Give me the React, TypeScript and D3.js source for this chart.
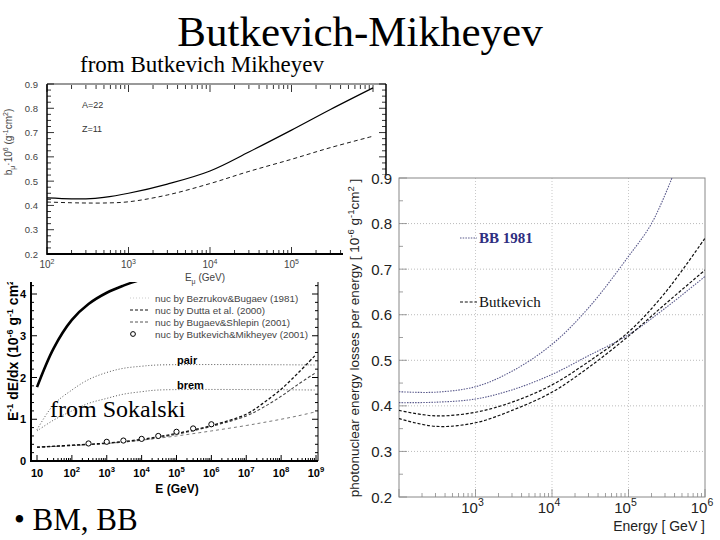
import React from 'react';
import * as d3 from 'd3';

// ---- top-left: Butkevich & Mikheyev, b_nu for A=22, Z=11
const bmEnergy = [100, 200, 300, 500, 1e3, 3e3, 1e4, 3e4, 1e5, 3e5, 1e6];
const bmSolid = [0.431, 0.427, 0.427, 0.433, 0.45, 0.488, 0.542, 0.62, 0.71, 0.795, 0.884];
const bmDashed = [0.414, 0.411, 0.41, 0.41, 0.415, 0.443, 0.49, 0.54, 0.59, 0.638, 0.685];
const bmYTicks = [0.2, 0.3, 0.4, 0.5, 0.6, 0.7, 0.8, 0.9];
const bmXTicks = [2, 3, 4, 5];

// ---- bottom-left: Sokalski, E^-1 dE/dx
const sokTotalE = [10, 30, 100, 300, 1e3, 3e3, 1e4];
const sokTotal = [1.77, 2.7, 3.38, 3.76, 4.03, 4.2, 4.35];
const sokRadE = [10, 30, 100, 300, 1e3, 3e3, 1e4, 3e4, 1e9];
const sokPair = [0.75, 1.35, 1.7, 1.95, 2.12, 2.22, 2.27, 2.3, 2.3];
const sokBrem = [0.72, 0.98, 1.2, 1.38, 1.5, 1.6, 1.66, 1.7, 1.7];
const sokNucE = [10, 100, 1e3, 1e4, 1e5, 1e6, 1e7, 3e7, 1e8, 3e8, 1e9];
const sokBB = [0.33, 0.37, 0.42, 0.5, 0.6, 0.72, 0.85, 0.92, 1.0, 1.08, 1.18];
const sokDutta = [0.33, 0.38, 0.43, 0.52, 0.66, 0.85, 1.12, 1.38, 1.72, 2.1, 2.55];
const sokBS = [0.33, 0.37, 0.42, 0.5, 0.64, 0.83, 1.08, 1.28, 1.55, 1.83, 2.12];
const sokBME = [300, 1e3, 3e3, 1e4, 3e4, 1e5, 3e5, 1e6];
const sokBM = [0.42, 0.46, 0.49, 0.53, 0.6, 0.7, 0.78, 0.88];
const sokYTicks = [0, 1, 2, 3, 4];
const sokXTicks = [1, 2, 3, 4, 5, 6, 7, 8, 9];
const sokLegend = [
  'nuc by Bezrukov&Bugaev (1981)',
  'nuc by Dutta et al. (2000)',
  'nuc by Bugaev&Shlepin (2001)',
  'nuc by Butkevich&Mikheyev (2001)',
];

// ---- right: photonuclear energy losses per energy
const phE = [100, 300, 1e3, 3e3, 1e4, 3e4, 1e5, 3e5, 1e6];
const phBBE = [100, 300, 1e3, 3e3, 1e4, 3e4, 1e5, 2e5, 3.7e5];
const phBB = [0.431, 0.43, 0.442, 0.476, 0.535, 0.615, 0.728, 0.8, 0.9];
const phDotLow = [0.407, 0.408, 0.415, 0.435, 0.469, 0.51, 0.556, 0.614, 0.684];
const phDashHigh = [0.39, 0.378, 0.386, 0.408, 0.446, 0.497, 0.562, 0.648, 0.768];
const phDashLow = [0.372, 0.355, 0.363, 0.39, 0.43, 0.484, 0.553, 0.623, 0.698];
const phYTicks = [0.2, 0.3, 0.4, 0.5, 0.6, 0.7, 0.8, 0.9];
const phXTicks = [3, 4, 5, 6];

const SANS = 'Liberation Sans, Arial, sans-serif';
const SERIF = 'Liberation Serif, Times New Roman, serif';

function minorTicks(lo: number, hi: number) {
  const out: number[] = [];
  for (let k = Math.floor(Math.log10(lo)); k <= Math.ceil(Math.log10(hi)); k++) {
    for (let m = 1; m <= 9; m++) {
      const v = m * Math.pow(10, k);
      if (v >= lo && v <= hi) out.push(v);
    }
  }
  return out;
}

const Pow = ({ x, y, exp, size, weight = 'normal', fill = '#000' }: any) => (
  <text x={x} y={y} fontSize={size} textAnchor="middle" fontWeight={weight} fill={fill} fontFamily={SANS}>
    10<tspan dy={-size * 0.45} fontSize={size * 0.7}>{exp}</tspan>
  </text>
);

function mkLine(xs: number[], x: any, y: any) {
  return d3.line<number>()
    .x((_, i) => x(xs[i]))
    .y(d => y(d))
    .curve(d3.curveCatmullRom.alpha(0.5));
}

export default function App() {
  // top-left scales
  const tlX = d3.scaleLog().domain([1e2, 1e6]).range([47, 373]);
  const tlY = d3.scaleLinear().domain([0.2, 0.9]).range([254, 84]);
  const tlRight = 386;
  const tlLine = mkLine(bmEnergy, tlX, tlY);
  const tlMinor = minorTicks(1e2, tlX.invert(tlRight));

  // bottom-left scales
  const blX = d3.scaleLog().domain([10, 1e9]).range([37, 316]);
  const blY = d3.scaleLinear().domain([0, 4]).range([461, 294]);
  const blL = 31, blR = 318;
  const blMinor = minorTicks(10, 1e9);

  // right scales
  const rX = d3.scaleLog().domain([1e2, 1e6]).range([399, 705]);
  const rY = d3.scaleLinear().domain([0.2, 0.9]).range([497, 178]);
  const rMinor = minorTicks(1e2, 1e6);
  const rYMinor = d3.range(0.2, 0.9001, 0.05);

  const tlYMinor = d3.range(0.2, 0.9001, 0.025);
  const blYMinor = d3.range(0, 4.21, 0.2);

  return (
    <svg width={720} height={540} style={{ position: 'absolute', left: 0, top: 0 }}>
      <rect width={720} height={540} fill="#fff" />
      <defs>
        <clipPath id="rclip">
          <rect x={399} y={178} width={306} height={319} />
        </clipPath>
        <clipPath id="blclip">
          <rect x={blL} y={270} width={blR - blL} height={191} />
        </clipPath>
      </defs>

      {/* ===== bottom-left (Sokalski) ===== */}
      <g>
        <line x1={blL} x2={blL} y1={280} y2={462} stroke="#000" strokeWidth={2} />
        <line x1={blL} x2={blR} y1={461} y2={461} stroke="#000" strokeWidth={2} />
        <line x1={blR} x2={blR} y1={280} y2={461} stroke="#000" strokeWidth={1} />
        {blMinor.map((v, i) => {
          const major = Number.isInteger(Math.log10(v));
          return <line key={i} x1={blX(v)} x2={blX(v)} y1={461} y2={461 - (major ? 6 : 3)} stroke="#000" strokeWidth={1} />;
        })}
        {blYMinor.map((v, i) => {
          const major = Math.abs(v - Math.round(v)) < 1e-6;
          return (
            <g key={i}>
              <line x1={blL} x2={blL + (major ? 6 : 3)} y1={blY(v)} y2={blY(v)} stroke="#000" />
              <line x1={blR} x2={blR - (major ? 6 : 3)} y1={blY(v)} y2={blY(v)} stroke="#000" />
            </g>
          );
        })}
        {sokYTicks.map(t => (
          <text key={t} x={26} y={blY(t) + 4} fontSize={11} fontWeight="bold" textAnchor="end" fontFamily={SANS}>{t}</text>
        ))}
        {sokXTicks.map(k => k === 1
          ? <text key={k} x={blX(10)} y={477} fontSize={11} fontWeight="bold" textAnchor="middle" fontFamily={SANS}>10</text>
          : <Pow key={k} x={blX(Math.pow(10, k))} y={477} exp={k} size={11} weight="bold" />)}
        <text x={177} y={493} fontSize={12} fontWeight="bold" textAnchor="middle" fontFamily={SANS}>E (GeV)</text>
        <text transform="translate(18,421) rotate(-90)" fontSize={14} fontWeight="bold" fontFamily={SANS}>
          E<tspan dy={-5} fontSize={9}>-1</tspan><tspan dy={5}> dE/dx (10</tspan><tspan dy={-5} fontSize={9}>-6</tspan><tspan dy={5}> g</tspan><tspan dy={-5} fontSize={9}>-1</tspan><tspan dy={5}> cm</tspan><tspan dy={-5} fontSize={9}>2</tspan><tspan dy={5}>)</tspan>
        </text>

        <g clipPath="url(#blclip)">
          <path d={mkLine(sokRadE, blX, blY)(sokPair) || ''} fill="none" stroke="#555" strokeWidth={1} strokeDasharray="1,2" />
          <path d={mkLine(sokRadE, blX, blY)(sokBrem) || ''} fill="none" stroke="#555" strokeWidth={1} strokeDasharray="1,2" />
          <path d={mkLine(sokNucE, blX, blY)(sokBB) || ''} fill="none" stroke="#555" strokeWidth={0.8} strokeDasharray="3,3" />
          <path d={mkLine(sokNucE, blX, blY)(sokBS) || ''} fill="none" stroke="#444" strokeWidth={1.1} strokeDasharray="3,2" />
          <path d={mkLine(sokNucE, blX, blY)(sokDutta) || ''} fill="none" stroke="#111" strokeWidth={1.3} strokeDasharray="3,2" />
          <path d={mkLine(sokTotalE, blX, blY)(sokTotal) || ''} fill="none" stroke="#000" strokeWidth={2.6} />
          {sokBME.map((e, i) => (
            <circle key={i} cx={blX(e)} cy={blY(sokBM[i])} r={2.6} fill="#fff" stroke="#000" strokeWidth={1} />
          ))}
        </g>
        <text x={177} y={364} fontSize={11} fontWeight="bold" fontFamily={SANS}>pair</text>
        <text x={177} y={389} fontSize={11} fontWeight="bold" fontFamily={SANS}>brem</text>

        {sokLegend.map((s, i) => {
          const y = 298 + i * 12;
          return (
            <g key={i}>
              {i === 0 && <line x1={130} x2={150} y1={y} y2={y} stroke="#aaa" strokeWidth={0.6} strokeDasharray="1,2" />}
              {i === 1 && <line x1={130} x2={150} y1={y} y2={y} stroke="#111" strokeWidth={1} strokeDasharray="3,2" />}
              {i === 2 && <line x1={130} x2={150} y1={y} y2={y} stroke="#555" strokeWidth={1} strokeDasharray="3,2" />}
              {i === 3 && <circle cx={133} cy={y} r={2.4} fill="#fff" stroke="#000" />}
              <text x={155} y={y + 3.5} fontSize={9.8} fill="#444" fontFamily={SANS}>{s}</text>
            </g>
          );
        })}
      </g>

      {/* ===== top-left (Butkevich-Mikheyev) ===== */}
      <g>
        <rect x={0} y={78} width={390} height={204} fill="#fff" />
        <line x1={47} x2={tlRight} y1={84} y2={84} stroke="#999" strokeWidth={2} />
        <line x1={47} x2={47} y1={84} y2={255} stroke="#000" strokeWidth={1.5} />
        <line x1={47} x2={tlRight} y1={254} y2={254} stroke="#000" strokeWidth={2} />
        <line x1={tlRight} x2={tlRight} y1={84} y2={254} stroke="#000" strokeWidth={1.5} />
        {tlMinor.map((v, i) => {
          const major = Number.isInteger(Math.log10(v));
          const len = major ? 7 : 4;
          return (
            <g key={i}>
              <line x1={tlX(v)} x2={tlX(v)} y1={254} y2={254 - len} stroke="#000" strokeWidth={0.8} />
              <line x1={tlX(v)} x2={tlX(v)} y1={85} y2={85 + len} stroke="#000" strokeWidth={0.8} />
            </g>
          );
        })}
        {tlYMinor.map((v, i) => {
          const major = Math.abs(v * 10 - Math.round(v * 10)) < 1e-6;
          return (
            <g key={i}>
              <line x1={47} x2={47 + (major ? 7 : 4)} y1={tlY(v)} y2={tlY(v)} stroke="#000" strokeWidth={0.8} />
              <line x1={tlRight} x2={tlRight - (major ? 7 : 4)} y1={tlY(v)} y2={tlY(v)} stroke="#000" strokeWidth={0.8} />
            </g>
          );
        })}
        {bmYTicks.map(t => (
          <text key={t} x={38} y={tlY(t) + 3.5} fontSize={9.5} textAnchor="end" fill="#444" fontFamily={SANS}>{t.toFixed(1)}</text>
        ))}
        {bmXTicks.map(k => (
          <Pow key={k} x={tlX(Math.pow(10, k))} y={268} exp={k} size={10} fill="#444" />
        ))}
        <text x={205} y={281} fontSize={10} textAnchor="middle" fill="#444" fontFamily={SANS}>
          E<tspan dy={3} fontSize={7}>μ</tspan><tspan dy={-3}> (GeV)</tspan>
        </text>
        <text transform="translate(12,142) rotate(-90)" fontSize={10} textAnchor="middle" fill="#444" fontFamily={SANS}>
          b<tspan dy={3} fontSize={7}>μ</tspan><tspan dy={-3}>·10</tspan><tspan dy={-4} fontSize={7}>6</tspan><tspan dy={4}> (g</tspan><tspan dy={-4} fontSize={7}>-1</tspan><tspan dy={4}>cm</tspan><tspan dy={-4} fontSize={7}>2</tspan><tspan dy={4}>)</tspan>
        </text>
        <text x={82} y={108} fontSize={9} fill="#333" fontFamily={SANS}>A=22</text>
        <text x={82} y={132} fontSize={9} fill="#333" fontFamily={SANS}>Z=11</text>
        <path d={tlLine(bmSolid) || ''} fill="none" stroke="#000" strokeWidth={1.2} />
        <path d={tlLine(bmDashed) || ''} fill="none" stroke="#000" strokeWidth={0.9} strokeDasharray="4,3" />
      </g>

      {/* ===== right (photonuclear losses) ===== */}
      <g>
        <rect x={343} y={175} width={377} height={365} fill="#fff" />
        {[0.3, 0.4, 0.5, 0.6, 0.7, 0.8].map(t => (
          <line key={t} x1={399} x2={705} y1={rY(t)} y2={rY(t)} stroke="#aaa" strokeWidth={0.8} strokeDasharray="1,2" />
        ))}
        {[1e3, 1e4, 1e5].map(t => (
          <line key={t} x1={rX(t)} x2={rX(t)} y1={178} y2={497} stroke="#bbb" strokeWidth={0.8} strokeDasharray="1,2" />
        ))}
        <rect x={399} y={178} width={306} height={319} fill="none" stroke="#888" strokeWidth={1} />
        {rMinor.map((v, i) => {
          const major = Number.isInteger(Math.log10(v));
          return <line key={i} x1={rX(v)} x2={rX(v)} y1={497} y2={497 - (major ? 8 : 4)} stroke="#888" strokeWidth={0.8} />;
        })}
        {rYMinor.map((v, i) => {
          const major = Math.abs(v * 10 - Math.round(v * 10)) < 1e-6;
          return <line key={i} x1={399} x2={399 + (major ? 8 : 4)} y1={rY(v)} y2={rY(v)} stroke="#888" strokeWidth={0.8} />;
        })}
        {phYTicks.map(t => (
          <text key={t} x={392} y={rY(t) + 5.5} fontSize={15} textAnchor="end" fill="#222" fontFamily={SANS}>{t.toFixed(1)}</text>
        ))}
        {phXTicks.map(k => (
          <Pow key={k} x={rX(Math.pow(10, k)) - 3} y={513} exp={k} size={15} fill="#222" />
        ))}
        <text x={705} y={531} fontSize={14} textAnchor="end" fill="#222" fontFamily={SANS}>Energy [ GeV ]</text>
        <text transform="translate(359,338) rotate(-90)" fontSize={13.5} textAnchor="middle" fill="#222" fontFamily={SANS}>
          photonuclear energy losses per energy [ 10<tspan dy={-5} fontSize={9.5}>-6</tspan><tspan dy={5}> g</tspan><tspan dy={-5} fontSize={9.5}>-1</tspan><tspan dy={5}>cm</tspan><tspan dy={-5} fontSize={9.5}>2</tspan><tspan dy={5}> ]</tspan>
        </text>

        <g clipPath="url(#rclip)">
          <path d={mkLine(phBBE, rX, rY)(phBB) || ''} fill="none" stroke="#5a5a8c" strokeWidth={1.1} strokeDasharray="1.5,1.2" />
          <path d={mkLine(phE, rX, rY)(phDotLow) || ''} fill="none" stroke="#5a5a8c" strokeWidth={1.1} strokeDasharray="1.5,1.2" />
          <path d={mkLine(phE, rX, rY)(phDashHigh) || ''} fill="none" stroke="#111" strokeWidth={1.2} strokeDasharray="3,1.8" />
          <path d={mkLine(phE, rX, rY)(phDashLow) || ''} fill="none" stroke="#111" strokeWidth={1.2} strokeDasharray="3,1.8" />
        </g>

        <line x1={460} x2={477} y1={238} y2={238} stroke="#5a5a8c" strokeWidth={1.1} strokeDasharray="1.5,1.2" />
        <text x={479} y={243} fontSize={15} fill="#2e2e80" fontFamily={SERIF} fontWeight="bold">BB 1981</text>
        <line x1={460} x2={477} y1={302} y2={302} stroke="#111" strokeWidth={1.1} strokeDasharray="3,1.8" />
        <text x={479} y={307} fontSize={15} fill="#111" fontFamily={SERIF}>Butkevich</text>
      </g>

      {/* ===== slide texts ===== */}
      <text x={360} y={46} fontSize={43} textAnchor="middle" fontFamily={SERIF}>Butkevich-Mikheyev</text>
      <text x={80} y={72} fontSize={23} fontFamily={SERIF}>from Butkevich Mikheyev</text>
      <text x={50} y={417} fontSize={24} fontFamily={SERIF}>from Sokalski</text>
      <text x={14} y={530} fontSize={31} fontFamily={SERIF}>• BM, BB</text>
    </svg>
  );
}
